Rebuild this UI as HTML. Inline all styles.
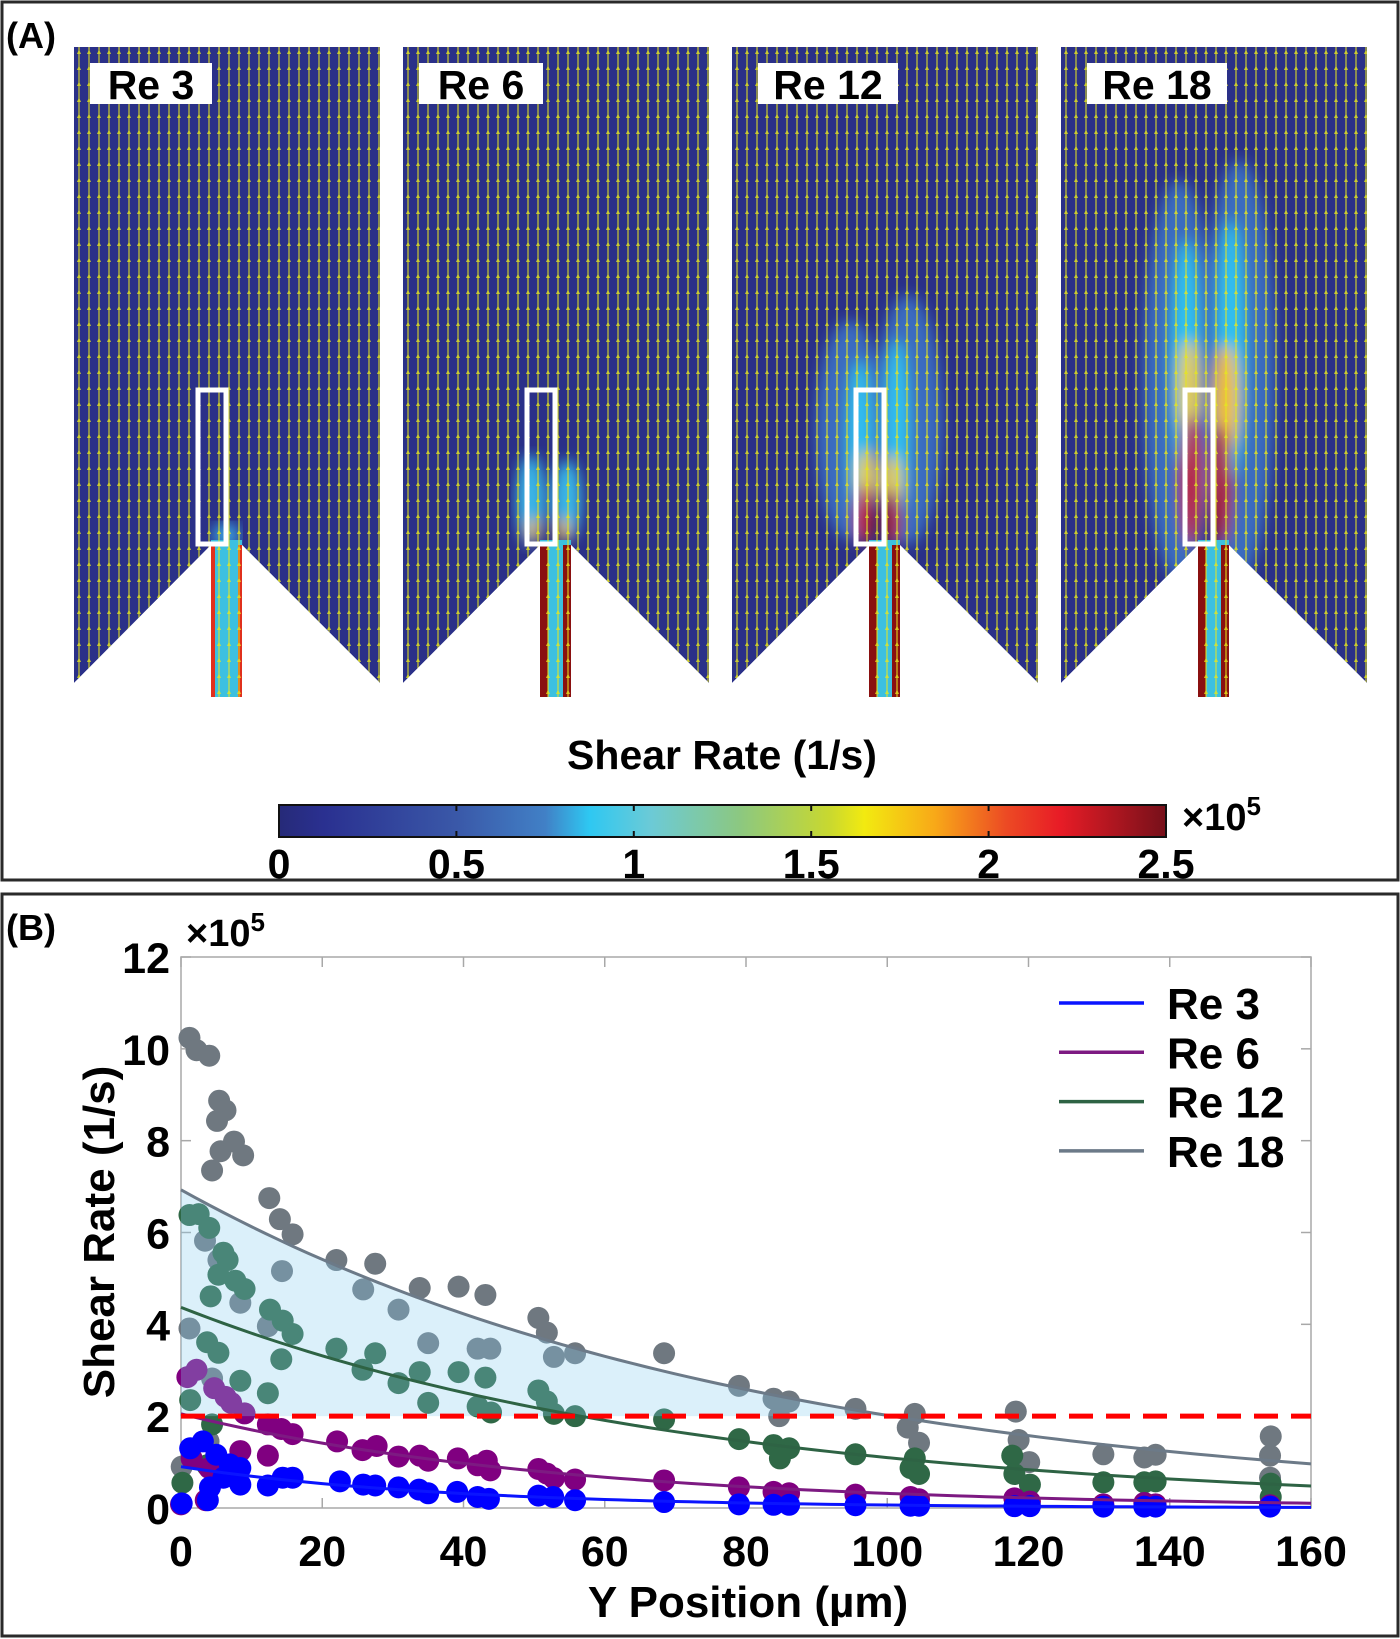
<!DOCTYPE html>
<html><head><meta charset="utf-8">
<style>
html,body{margin:0;padding:0;background:#fff;}
svg{display:block;font-family:"Liberation Sans",Arial,sans-serif;font-weight:bold;}
</style></head>
<body>
<svg id="fig" width="1400" height="1639" viewBox="0 0 1400 1639" xmlns="http://www.w3.org/2000/svg">
<defs>
  <pattern id="arrows" width="10" height="16" patternUnits="userSpaceOnUse">
    <line x1="5" y1="0" x2="5" y2="16" stroke="#e6e61e" stroke-width="1.2"/>
    <path d="M3,6 L5,1.5 L7,6 Z" fill="#e6e61e"/>
  </pattern>
  <filter id="blur6"><feGaussianBlur stdDeviation="7"/></filter>
  <linearGradient id="cbar" x1="0" x2="1" y1="0" y2="0">
    <stop offset="0" stop-color="#262a78"/>
    <stop offset="0.05" stop-color="#2a3090"/>
    <stop offset="0.2" stop-color="#3a58a8"/>
    <stop offset="0.3" stop-color="#4180c6"/>
    <stop offset="0.35" stop-color="#2ec8f2"/>
    <stop offset="0.42" stop-color="#6ccad6"/>
    <stop offset="0.52" stop-color="#8cc880"/>
    <stop offset="0.62" stop-color="#c8d830"/>
    <stop offset="0.66" stop-color="#f2ea10"/>
    <stop offset="0.74" stop-color="#f8a818"/>
    <stop offset="0.82" stop-color="#ec4a24"/>
    <stop offset="0.88" stop-color="#e81c26"/>
    <stop offset="1" stop-color="#76101a"/>
  </linearGradient>
</defs>

<rect x="2" y="2" width="1396" height="878" fill="none" stroke="#2a2a2a" stroke-width="3"/>
<text x="6" y="48" font-size="36" fill="#000">(A)</text>
<g id="panels"></g>

<text x="722" y="769" font-size="41" text-anchor="middle">Shear Rate (1/s)</text>
<rect x="279" y="805" width="887" height="32" fill="url(#cbar)" stroke="#111" stroke-width="2"/>
<g id="cbticks"></g>
<text x="1182" y="830" font-size="38">×10<tspan font-size="26" dy="-15">5</tspan></text>

<rect x="2" y="894" width="1396" height="742" fill="none" stroke="#2a2a2a" stroke-width="3"/>
<text x="6" y="940" font-size="36" fill="#000">(B)</text>
<g id="chart"></g>
</svg>

<script>
const xTicks = [0,20,40,60,80,100,120,140,160];
const yTicks = [0,2,4,6,8,10,12];
const seriesNames = ["Re 3","Re 6","Re 12","Re 18"];
const re3X = [0.1,1.3,3.1,5.0,6.9,3.8,4.1,6,8.4,8.4,12.3,14.4,15.8,22.5,25.8,27.5,30.8,33.7,35,39.1,42,43.6,50.6,52.7,55.8,68.4,79,83.9,86.1,95.5,103.3,104.5,118,120.2,130.6,136.4,138,154.2];
const re3Y = [0.1,1.3,1.45,1.16,0.95,0.17,0.45,0.66,0.51,0.87,0.49,0.66,0.66,0.58,0.51,0.49,0.45,0.40,0.32,0.35,0.24,0.20,0.27,0.24,0.17,0.13,0.08,0.07,0.07,0.06,0.05,0.05,0.04,0.04,0.03,0.03,0.03,0.03];
const re6X = [0.9,2.2,4.7,6.3,7.1,9,12.3,14.2,15.8,22.1,25.7,27.7,30.8,33.8,35,39.2,42,43.3,43.8,50.6,51.8,52.8,55.8,68.4,8.4,12.3,4,3.5,0,1.5,79,83.9,86.1,95.5,103.3,104.5,118,120.2,130.6,136.4,138,154.2];
const re6Y = [2.85,3.01,2.61,2.42,2.29,2.06,1.82,1.72,1.61,1.45,1.26,1.35,1.12,1.14,1.03,1.08,0.93,1.03,0.82,0.85,0.75,0.65,0.62,0.6,1.24,1.14,0.87,0.17,0.08,1.08,0.45,0.35,0.32,0.29,0.24,0.19,0.21,0.14,0.08,0.11,0.08,0.06];
const re12X = [1.2,2.5,4,6,6.6,5.3,7.7,9,4.2,12.6,14.4,15.8,3.7,5.3,14.2,22,27.5,25.7,30.8,33.8,35,39.3,43.1,42,43.9,50.6,51.8,52.8,55.8,8.4,12.3,1.3,4.4,3.7,0.2,68.4,79,83.9,86.1,84.8,95.5,103.9,103.3,104.5,117.7,118,120.2,130.6,136.4,138,154.3,154.3];
const re12Y = [6.38,6.4,6.1,5.56,5.4,5.08,4.95,4.77,4.61,4.32,4.08,3.79,3.61,3.38,3.24,3.47,3.37,3.01,2.72,2.96,2.29,2.96,2.84,2.21,2.08,2.56,2.32,2.05,2.0,2.77,2.5,2.35,1.82,0.93,0.55,1.93,1.5,1.37,1.3,1.08,1.17,1.08,0.87,0.74,1.14,0.74,0.51,0.56,0.56,0.58,0.53,0.24];
const re18X = [1.2,2.2,4,5.4,6.3,5.1,4.4,5.6,7.5,8.8,12.5,14,15.8,22,27.5,33.8,39.3,43.1,50.6,51.8,68.4,3.4,5.3,14.3,25.8,30.8,8.4,1.2,12.3,35,42,43.8,52.8,55.8,4.4,3.9,0.1,79,83.9,86.1,84.7,95.5,103.9,102.9,104.5,118.2,118.6,120.1,130.6,136.4,138,154.3,154.2,154.2];
const re18Y = [10.24,9.97,9.85,8.87,8.66,8.43,7.35,7.77,7.98,7.68,6.75,6.29,5.96,5.4,5.32,4.79,4.82,4.64,4.14,3.82,3.37,5.82,5.4,5.16,4.76,4.32,4.47,3.91,3.96,3.59,3.47,3.47,3.29,3.37,2.82,1.45,0.9,2.66,2.38,2.32,2.0,2.16,2.05,1.75,1.42,2.1,1.48,1.0,1.17,1.1,1.16,1.56,1.14,0.66];
const fitAmp = [0.9,2.05,4.37,6.93];
const fitDecay = [38,53.7,72.4,81];
const thresholdValue = [2];

const colors = ["#0000ff","#800080","#2f6846","#6f7880"];
const lineColors = ["#0a14ff","#7d1a82","#2e6344","#6c7a88"];
const NS = "http://www.w3.org/2000/svg";
const L=181,R=1311,T=957,B=1508;
const X = d => L + d*(R-L)/160;
const Y = v => B - v*(B-T)/12;
function mk(tag, attrs, parent){const e=document.createElementNS(NS,tag);for(const k in attrs)e.setAttribute(k,attrs[k]);parent.appendChild(e);return e;}

const chart = document.getElementById('chart');
let box = mk('rect',{x:L,y:T,width:R-L,height:B-T,fill:'#fff',stroke:'#a8a8a8','stroke-width':1.5},chart);


xTicks.forEach(t=>{
  mk('line',{x1:X(t),x2:X(t),y1:B,y2:B-10,stroke:'#a8a8a8','stroke-width':1.5},chart);
  mk('line',{x1:X(t),x2:X(t),y1:T,y2:T+10,stroke:'#a8a8a8','stroke-width':1.5},chart);
  const tx = mk('text',{x:X(t),y:B+58,'font-size':43,'text-anchor':'middle'},chart);
  tx.textContent=t;
  
  
});
yTicks.forEach(t=>{
  mk('line',{x1:L,x2:L+10,y1:Y(t),y2:Y(t),stroke:'#a8a8a8','stroke-width':1.5},chart);
  mk('line',{x1:R,x2:R-10,y1:Y(t),y2:Y(t),stroke:'#a8a8a8','stroke-width':1.5},chart);
  const tx = mk('text',{x:170,y:Y(t)+16,'font-size':43,'text-anchor':'end'},chart);
  tx.textContent=t;
  
  
});
let ex = mk('text',{x:186,y:946,'font-size':38},chart);
ex.innerHTML='×10<tspan font-size="26" dy="-15">5</tspan>';


let yt = mk('text',{x:0,y:0,'font-size':44,'text-anchor':'middle',transform:'translate(114,1232) rotate(-90)'},chart);
yt.textContent='Shear Rate (1/s)';


let xt = mk('text',{x:748,y:1617,'font-size':44,'text-anchor':'middle'},chart);
xt.textContent='Y Position (µm)';



const xs=[re3X,re6X,re12X,re18X], ys=[re3Y,re6Y,re12Y,re18Y];
const order=[3,2,1,0];
const mg = mk('g',{},chart);


order.forEach(s=>{
  xs[s].forEach((xv,i)=>{
    const c = mk('circle',{cx:X(xv),cy:Y(ys[s][i]),r:11,fill:colors[s]},mg);
    
    
  });
});
function fit(s,d){return fitAmp[s]*Math.exp(-d/fitDecay[s]);}
let thr = thresholdValue[0];
let pts=[];
for(let d=0; d<=160; d+=1){const v=fit(3,d); if(v<thr)break; pts.push(X(d)+','+Y(v));}
const dEnd = fitDecay[3]*Math.log(fitAmp[3]/thr);
pts.push(X(dEnd)+','+Y(thr)); pts.push(X(0)+','+Y(thr));
let sh = mk('polygon',{points:pts.join(' '),fill:'rgba(135,206,240,0.3)'},chart);


[0,1,2,3].forEach(s=>{
  let p=[];
  for(let d=0;d<=160;d+=2)p.push(X(d)+','+Y(fit(s,d)));
  const pl = mk('polyline',{points:p.join(' '),fill:'none',stroke:lineColors[s],'stroke-width':3},chart);
  
  
});
let dl = mk('line',{x1:X(0),x2:X(160),y1:Y(thr),y2:Y(thr),stroke:'#ff0000','stroke-width':5,'stroke-dasharray':'24 13'},chart);


const lg = mk('g',{},chart);


seriesNames.forEach((n,i)=>{
  const yy=1003+i*49.3;
  mk('line',{x1:1059,x2:1144,y1:yy,y2:yy,stroke:lineColors[i],'stroke-width':3.5},lg);
  const t=mk('text',{x:1167,y:yy+16,'font-size':44},lg);
  t.textContent=n;
  
  
});

const panelX=[74,403,732,1061];
const panelLabels=["Re 3","Re 6","Re 12","Re 18"];
const labelBox=[[16,122],[16,124],[26,140],[26,140]];
const pg=document.getElementById('panels');
const shape="M0,47 H306 V683 L168,545 V697 H137 V545 L0,683 Z";
panelX.forEach((ox,i)=>{
  const g=mk('g',{transform:`translate(${ox},0)`},pg);
  
  
  const cp=mk('clipPath',{id:'cp'+i},g); mk('path',{d:shape},cp);
  const inner=mk('g',{'clip-path':`url(#cp${i})`},g);
  mk('path',{d:shape,fill:'#2a3088'},inner);
  const hot=mk('g',{filter:'url(#blur6)'},inner);
  mk('rect',{x:137,y:540,width:31,height:160,fill:'#3cc0e0'},inner);
  const cw = i==0?4:8;
  mk('rect',{x:137,y:545,width:cw,height:155,fill:i==0?'#e0301c':'#8a1010'},inner);
  mk('rect',{x:168-cw,y:545,width:cw,height:155,fill:i==0?'#e0301c':'#8a1010'},inner);
  if(i==0){ mk('ellipse',{cx:152,cy:535,rx:14,ry:12,fill:'#3aa0e0'},hot); }
  if(i==1){ mk('ellipse',{cx:128,cy:500,rx:14,ry:45,fill:'#3ab8e8'},hot); mk('ellipse',{cx:164,cy:500,rx:14,ry:40,fill:'#3ab8e8'},hot); mk('ellipse',{cx:130,cy:530,rx:6,ry:12,fill:'#f0c020'},hot); mk('ellipse',{cx:160,cy:530,rx:6,ry:12,fill:'#f0c020'},hot);}
  if(i==2){ mk('ellipse',{cx:118,cy:430,rx:34,ry:110,fill:'#3a6cc0'},hot); mk('ellipse',{cx:176,cy:420,rx:34,ry:125,fill:'#3a6cc0'},hot);
    mk('ellipse',{cx:128,cy:440,rx:12,ry:80,fill:'#30c0f0'},hot); mk('ellipse',{cx:165,cy:430,rx:12,ry:90,fill:'#30c0f0'},hot);
    mk('ellipse',{cx:134,cy:480,rx:9,ry:30,fill:'#e8d030'},hot); mk('ellipse',{cx:160,cy:485,rx:9,ry:30,fill:'#e8d030'},hot);
    mk('ellipse',{cx:132,cy:515,rx:8,ry:30,fill:'#c81818'},hot); mk('ellipse',{cx:160,cy:518,rx:8,ry:28,fill:'#b01818'},hot);}
  if(i==3){ mk('ellipse',{cx:118,cy:380,rx:36,ry:200,fill:'#3a6cc0'},hot); mk('ellipse',{cx:178,cy:370,rx:36,ry:210,fill:'#3a6cc0'},hot);
    mk('ellipse',{cx:125,cy:360,rx:14,ry:120,fill:'#30c0f0'},hot); mk('ellipse',{cx:170,cy:350,rx:14,ry:130,fill:'#30c0f0'},hot);
    mk('ellipse',{cx:128,cy:390,rx:10,ry:50,fill:'#e8d030'},hot); mk('ellipse',{cx:165,cy:400,rx:12,ry:55,fill:'#f0c020'},hot);
    mk('ellipse',{cx:130,cy:480,rx:10,ry:65,fill:'#c01818'},hot); mk('ellipse',{cx:160,cy:485,rx:10,ry:60,fill:'#b01818'},hot);}
  mk('path',{d:shape,fill:'url(#arrows)',opacity:0.85},inner);
  const bx=mk('rect',{x:124,y:390,width:28,height:154,fill:'none',stroke:'#fff','stroke-width':5},g);
  
  
  mk('rect',{x:labelBox[i][0],y:63,width:labelBox[i][1],height:41,fill:'#fff'},g);
  const t=mk('text',{x:labelBox[i][0]+labelBox[i][1]/2,y:99,'font-size':41,'text-anchor':'middle'},g);
  t.textContent=panelLabels[i];
  
  
});
const cbTicks=[0,0.5,1,1.5,2,2.5];
const cbg=document.getElementById('cbticks');
cbTicks.forEach(v=>{
  const x=279+v/2.5*887;
  mk('line',{x1:x,x2:x,y1:805,y2:811,stroke:'#111','stroke-width':2},cbg);
  mk('line',{x1:x,x2:x,y1:831,y2:837,stroke:'#111','stroke-width':2},cbg);
  const t=mk('text',{x:x,y:878,'font-size':41,'text-anchor':'middle'},cbg);
  t.textContent=v;
  
  
});
</script>
</body></html>
